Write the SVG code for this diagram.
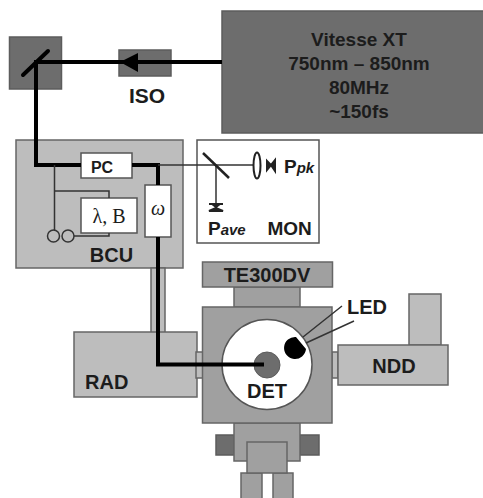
<svg xmlns="http://www.w3.org/2000/svg" width="483" height="498" viewBox="0 0 483 498">
<style>
text{font-family:"Liberation Sans",Arial,sans-serif;font-weight:bold;fill:#1c1c1c}
.s{font-family:"Liberation Serif","Times New Roman",serif;font-weight:normal}
.dk{fill:#6d6d6d;stroke:#5c5c5c;stroke-width:1.5}
.md{fill:#a0a0a0;stroke:#666;stroke-width:1.5}
.lt{fill:#bdbdbd;stroke:#666;stroke-width:1.5}
.wh{fill:#fff;stroke:#555;stroke-width:1.5}
.b{fill:none;stroke:#000;stroke-width:4}
.t{fill:none;stroke:#333;stroke-width:1.5}
.m{fill:none;stroke:#222;stroke-width:2.5}
</style>
<g id="laser"><rect class="dk" x="222" y="11" width="262" height="122"/>
<text font-size="19" text-anchor="middle" x="359" y="46">Vitesse XT</text>
<text font-size="19" text-anchor="middle" x="359" y="70">750nm – 850nm</text>
<text font-size="19" text-anchor="middle" x="359" y="94">80MHz</text>
<text font-size="19" text-anchor="middle" x="359" y="118">~150fs</text></g>
<g id="mirror-box"><rect class="dk" x="9.500" y="37" width="52" height="52"/></g>
<g id="iso"><rect class="dk" x="119" y="50" width="52" height="26"/>
<text font-size="21" text-anchor="middle" x="147" y="103">ISO</text></g>
<g id="bcu"><rect class="lt" x="16" y="140" width="167" height="128"/>
<text font-size="20" text-anchor="middle" x="111.500" y="262">BCU</text></g>
<g id="mon"><rect class="wh" x="197" y="140" width="122" height="103"/>
<text font-size="19" x="284" y="173">P<tspan font-size="15" font-style="italic">pk</tspan></text>
<text font-size="19" x="208" y="235">P<tspan font-size="15" font-style="italic">ave</tspan></text>
<text font-size="19" x="267.500" y="235">MON</text></g>
<g id="rad-link"><rect class="lt" x="151" y="268" width="14" height="65"/></g>
<g id="rad"><rect class="lt" x="74" y="332" width="123" height="65"/><rect class="lt" x="196" y="352" width="7" height="26"/>
<text font-size="20" x="85" y="389">RAD</text></g>
<g id="ndd"><rect class="lt" x="409" y="294" width="32" height="51"/><rect class="lt" x="332" y="352" width="6" height="26"/><rect class="lt" x="338" y="345" width="110" height="40"/>
<text font-size="20" text-anchor="middle" x="394" y="373">NDD</text></g>
<g id="te300"><rect class="md" x="234" y="287" width="66" height="20"/><rect class="md" x="202.500" y="262" width="130" height="25"/>
<text font-size="20" text-anchor="middle" x="267" y="282">TE300DV</text></g>
<g id="stand"><rect class="dk" x="216" y="435" width="18" height="20"/><rect class="dk" x="300" y="435" width="19" height="20"/><rect class="md" x="234" y="423" width="66" height="38"/><rect class="md" x="241" y="473" width="21" height="26"/><rect class="md" x="273" y="473" width="20" height="26"/><rect class="md" x="247" y="442" width="40" height="31"/></g>
<g id="stage"><rect class="md" x="202.500" y="307" width="129.500" height="116"/><circle cx="267" cy="364.500" r="45" fill="#fff" stroke="#555" stroke-width="1.500"/>
<circle cx="267" cy="365" r="13" fill="#6d6d6d" stroke="#5c5c5c"/>
<text font-size="20" text-anchor="middle" x="267" y="398">DET</text></g>
<g id="pc"><rect class="wh" x="81" y="153" width="51" height="25"/><text font-size="16" text-anchor="middle" x="102" y="173">PC</text></g>
<g id="lb"><rect class="wh" x="81" y="198" width="56" height="35"/><text class="s" font-size="20" text-anchor="middle" x="109" y="223">λ, B</text></g>
<g id="omega"><rect class="wh" x="145" y="185" width="26" height="52"/><text class="s" font-size="20" font-style="italic" text-anchor="middle" x="158" y="215">ω</text></g>
<g id="led"><path d="M296 337L306 349A11 11 0 1 1 296 337Z" fill="#000"/>
<path d="M303 337L342 306M306 343L354 321" class="t"/>
<text font-size="20" x="347" y="314">LED</text></g>
<g id="connectors">
<path class="b" d="M222 62H36V165H81M132 165H158V185M158 237V364.500H264"/>
<path d="M120 62L138 53V72Z" fill="#000"/>
<path class="b" d="M23 75L48 51" stroke-linecap="round"/>
<path class="t" d="M158 165H253M54.500 165V231M54.500 191H109V198M216 166V203M74 236H109V233"/>
<path class="m" d="M203 153L229 178"/>
<circle cx="53.500" cy="236" r="6" fill="none" stroke="#333" stroke-width="1.500"/>
<circle cx="68" cy="236" r="6" fill="none" stroke="#333" stroke-width="1.500"/>
<ellipse cx="257" cy="165.500" rx="3.500" ry="13" fill="none" stroke="#222" stroke-width="2"/>
<path d="M267 161L271 165L267 170ZM275 160V171L271 165Z" fill="#222" stroke="#222" stroke-width="2"/>
<path d="M209 204H223M212 204L216 207L220 204M216 208L209 211H223Z" fill="#222" stroke="#222" stroke-width="2"/>
</g>
</svg>
